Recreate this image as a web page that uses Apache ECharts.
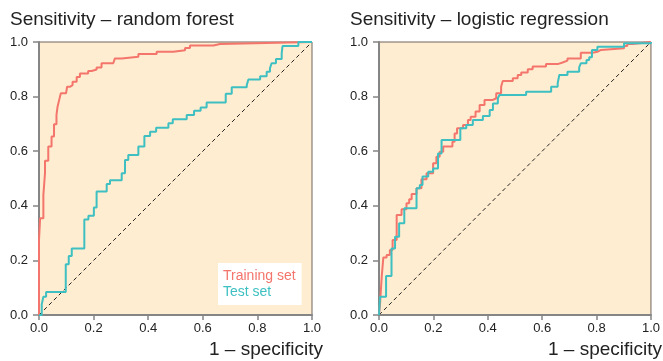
<!DOCTYPE html>
<html><head><meta charset="utf-8">
<script src="https://cdn.jsdelivr.net/npm/echarts@6/dist/echarts.min.js"></script>
<style>html,body{margin:0;padding:0;background:#fff}#c{width:663px;height:361px}</style>
</head><body><div id="c"></div>
<script>
const tickLabels = ['0.0','0.2','0.4','0.6','0.8','1.0'];
const titles = ['Sensitivity \u2013 random forest', 'Sensitivity \u2013 logistic regression'];
const xName = '1 \u2013 specificity';
const seriesNames = ['Training set', 'Test set'];

const rfTrainFpr = [0,0,0.004,0.016,0.022,0.022,0.034,0.046,0.055,0.064,0.068,0.074,0.080,0.099,0.103,0.113,0.123,0.138,0.150,0.180,0.193,0.211,0.229,0.272,0.278,0.303,0.364,0.431,0.492,0.535,0.553,0.639,0.663,1.0];
const rfTrainTpr = [0,0.275,0.354,0.44,0.52,0.565,0.617,0.654,0.699,0.733,0.763,0.788,0.812,0.815,0.836,0.842,0.854,0.872,0.885,0.894,0.899,0.907,0.922,0.927,0.94,0.946,0.956,0.964,0.97,0.978,0.987,0.993,1.0,1.0];

const rfTestFpr = [0,0.01,0.016,0.026,0.098,0.109,0.12,0.166,0.181,0.201,0.211,0.248,0.26,0.303,0.315,0.327,0.364,0.386,0.407,0.429,0.474,0.49,0.541,0.568,0.592,0.614,0.684,0.706,0.761,0.767,0.81,0.834,0.846,0.852,0.868,0.889,0.892,0.95,1.0];
const rfTestTpr = [0,0.039,0.067,0.084,0.186,0.216,0.244,0.35,0.364,0.394,0.452,0.48,0.494,0.519,0.568,0.586,0.617,0.656,0.671,0.686,0.702,0.717,0.733,0.748,0.76,0.778,0.81,0.834,0.842,0.863,0.875,0.891,0.904,0.922,0.938,0.958,0.985,1.0,1.0];

const lrTrainFpr = [0,0.004,0.01,0.016,0.028,0.04,0.05,0.065,0.083,0.101,0.111,0.12,0.138,0.156,0.175,0.199,0.211,0.223,0.236,0.27,0.278,0.287,0.309,0.327,0.337,0.355,0.37,0.388,0.419,0.431,0.449,0.455,0.492,0.51,0.523,0.547,0.565,0.614,0.657,0.675,0.693,0.742,0.785,0.803,0.816,0.901,0.913,0.932,1.0];
const lrTrainTpr = [0,0.043,0.14,0.211,0.22,0.238,0.275,0.366,0.387,0.409,0.424,0.443,0.464,0.497,0.519,0.556,0.58,0.598,0.617,0.635,0.665,0.684,0.696,0.714,0.726,0.745,0.769,0.788,0.794,0.812,0.836,0.857,0.867,0.879,0.888,0.9,0.91,0.919,0.925,0.932,0.94,0.961,0.964,0.971,0.977,0.985,0.993,1.0,1.0];

const lrTestFpr = [0,0.004,0.026,0.046,0.059,0.074,0.093,0.138,0.15,0.16,0.181,0.199,0.217,0.23,0.299,0.321,0.345,0.382,0.407,0.419,0.437,0.443,0.541,0.633,0.657,0.663,0.693,0.736,0.742,0.763,0.773,0.783,0.803,0.901,1.0];
const lrTestTpr = [0,0.067,0.143,0.244,0.287,0.336,0.391,0.464,0.476,0.507,0.525,0.537,0.592,0.641,0.684,0.696,0.714,0.729,0.751,0.775,0.794,0.806,0.818,0.836,0.849,0.879,0.891,0.907,0.922,0.934,0.944,0.971,0.983,0.995,1.0];

const diagonal = [[0,0],[1,1]];

const RED = '#F4756C', TEAL = '#3EC0C2';
const FONT = '"Liberation Sans", Arial, Helvetica, sans-serif';
const zip = (a,b) => a.map((v,i)=>[v,b[i]]);

const chart = echarts.init(document.getElementById('c'), null, {renderer:'canvas'});
function xAxis(gi){
  return {type:'value', gridIndex:gi, min:0, max:1, interval:0.2,
    axisLine:{show:true, onZero:false, lineStyle:{color:'#858585', width:2}},
    axisTick:{show:true, length:5, lineStyle:{color:'#858585', width:1.5}},
    axisLabel:{margin:7, color:'#222', fontSize:13, fontFamily:FONT, formatter:(v)=>tickLabels[Math.round(v*5)]},
    splitLine:{show:false}};
}
function yAxis(gi){
  return {type:'value', gridIndex:gi, min:0, max:1, interval:0.2,
    axisLine:{show:true, onZero:false, lineStyle:{color:'#858585', width:2}},
    axisTick:{show:true, length:6, lineStyle:{color:'#858585', width:1.5}},
    axisLabel:{margin:11, color:'#222', fontSize:13, fontFamily:FONT, formatter:(v)=>tickLabels[Math.round(v*5)]},
    splitLine:{show:false}};
}
function curve(name, gi, fpr, tpr, color){
  return {type:'line', name:name, xAxisIndex:gi, yAxisIndex:gi, step:'end', showSymbol:false, symbol:'none',
    data:zip(fpr,tpr), lineStyle:{color:color, width:2}, itemStyle:{color:color}, animation:false, z:3};
}
function diag(gi){
  return {type:'line', xAxisIndex:gi, yAxisIndex:gi, data:diagonal, showSymbol:false, symbol:'none', silent:true,
    lineStyle:{color:'#222', width:1, type:[4,3]}, animation:false, z:2};
}
const titleStyle = {fontFamily:FONT, fontSize:19, fontWeight:'normal', color:'#222'};
chart.setOption({
  animation:false,
  backgroundColor:'#fff',
  title:[
    {text:titles[0], left:10, top:10, padding:0, textStyle:titleStyle},
    {text:titles[1], left:350, top:10, padding:0, textStyle:titleStyle},
    {text:xName, right:340, top:340, padding:0, textStyle:titleStyle},
    {text:xName, right:1, top:340, padding:0, textStyle:titleStyle}
  ],
  legend:{left:218, top:263, orient:'vertical', backgroundColor:'#fff', padding:[6,6,6,0], itemGap:2,
    itemWidth:0, itemHeight:0, selectedMode:false,
    data:[{name:seriesNames[0], icon:'none', textStyle:{color:RED}}, {name:seriesNames[1], icon:'none', textStyle:{color:TEAL}}],
    textStyle:{fontFamily:FONT, fontSize:14}},
  grid:[
    {left:39, top:42, width:273, height:273, show:true, backgroundColor:'#FEEDD0', borderColor:'#6e645a', borderWidth:1},
    {left:379, top:42, width:273, height:273, show:true, backgroundColor:'#FEEDD0', borderColor:'#6e645a', borderWidth:1}
  ],
  xAxis:[xAxis(0), xAxis(1)],
  yAxis:[yAxis(0), yAxis(1)],
  series:[
    diag(0), diag(1),
    curve(seriesNames[0], 0, rfTrainFpr, rfTrainTpr, RED),
    curve(seriesNames[1], 0, rfTestFpr, rfTestTpr, TEAL),
    curve(seriesNames[0], 1, lrTrainFpr, lrTrainTpr, RED),
    curve(seriesNames[1], 1, lrTestFpr, lrTestTpr, TEAL)
  ]
});
</script></body></html>
